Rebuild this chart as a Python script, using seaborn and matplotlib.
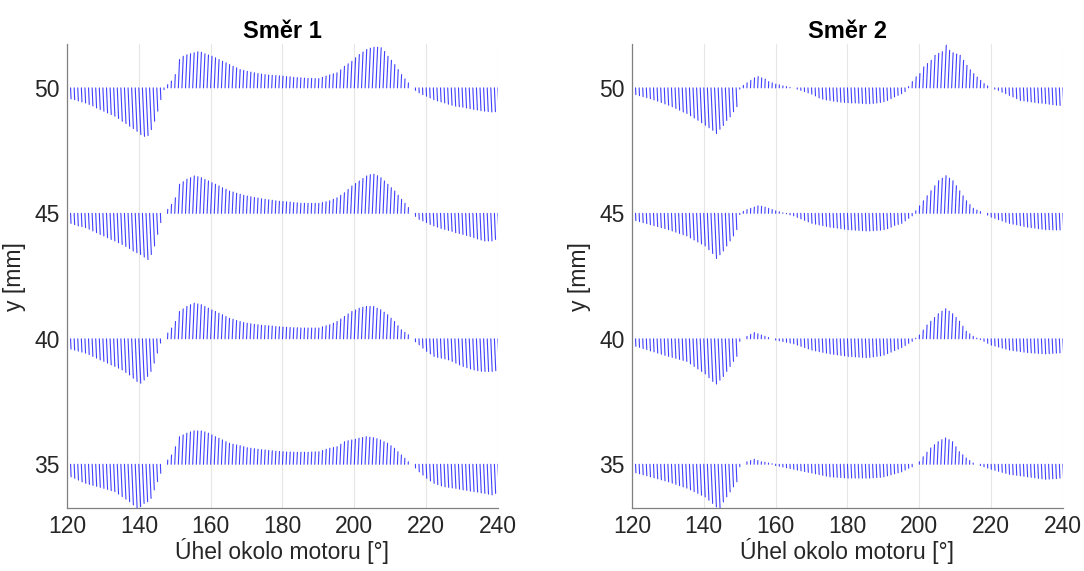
import numpy as np
import pandas as pd
import seaborn as sns
import matplotlib
matplotlib.use("Agg")
import matplotlib.pyplot as plt

# ---------------- data ----------------
angles = list(range(120, 241))          # angle around motor [deg]
baselines = [50, 45, 40, 35]            # y positions of the measurement lines [mm]
titles = ["Směr 1", "Směr 2"]
x_ticks = [120, 140, 160, 180, 200, 220, 240]
y_ticks = [35, 40, 45, 50]

s1_50 = [-0.40,-0.44,-0.47,-0.52,-0.56,-0.60,-0.66,-0.72,-0.80,-0.86,
         -0.93,-1.00,-1.06,-1.13,-1.22,-1.33,-1.42,-1.53,-1.62,-1.73,
         -1.86,-1.93,-1.90,-1.66,-1.33,-0.93,-0.47,-0.07,0.13,0.27,
         0.53,1.13,1.26,1.32,1.36,1.40,1.44,1.42,1.36,1.31,
         1.26,1.20,1.13,1.06,1.00,0.93,0.86,0.80,0.73,0.70,
         0.66,0.63,0.60,0.57,0.55,0.53,0.51,0.50,0.49,0.48,
         0.47,0.45,0.44,0.42,0.41,0.40,0.39,0.38,0.38,0.37,
         0.37,0.42,0.47,0.52,0.56,0.60,0.72,0.86,0.96,1.06,
         1.20,1.33,1.43,1.53,1.58,1.62,1.62,1.60,1.45,1.26,
         1.10,0.93,0.73,0.53,0.36,0.20,0.00,-0.10,-0.20,-0.27,
         -0.33,-0.40,-0.47,-0.52,-0.56,-0.60,-0.65,-0.69,-0.73,-0.75,
         -0.77,-0.80,-0.83,-0.86,-0.88,-0.91,-0.93,-0.94,-0.96,-0.95,
         -0.93]
s1_45 = [-0.37,-0.40,-0.45,-0.50,-0.53,-0.57,-0.63,-0.70,-0.77,-0.84,
         -0.90,-0.97,-1.04,-1.10,-1.17,-1.24,-1.32,-1.40,-1.50,-1.57,
         -1.64,-1.74,-1.84,-1.64,-1.30,-0.84,-0.37,0.00,0.16,0.36,
         0.62,1.16,1.26,1.36,1.42,1.49,1.46,1.42,1.35,1.29,
         1.22,1.16,1.09,1.02,0.96,0.89,0.85,0.80,0.76,0.72,
         0.69,0.66,0.63,0.61,0.58,0.56,0.54,0.52,0.50,0.48,
         0.47,0.46,0.45,0.43,0.42,0.40,0.40,0.40,0.40,0.40,
         0.40,0.43,0.46,0.50,0.56,0.62,0.72,0.82,0.95,1.09,
         1.19,1.29,1.39,1.49,1.54,1.56,1.50,1.42,1.29,1.16,
         1.02,0.89,0.72,0.56,0.40,0.23,0.00,-0.12,-0.24,-0.30,
         -0.37,-0.44,-0.50,-0.55,-0.60,-0.64,-0.68,-0.72,-0.77,-0.80,
         -0.84,-0.88,-0.92,-0.97,-1.02,-1.06,-1.10,-1.10,-1.10,-1.04,
         -0.97]
s1_40 = [-0.37,-0.41,-0.45,-0.49,-0.53,-0.57,-0.63,-0.70,-0.77,-0.84,
         -0.90,-0.97,-1.04,-1.10,-1.17,-1.24,-1.34,-1.44,-1.57,-1.70,
         -1.77,-1.64,-1.50,-1.30,-0.97,-0.57,-0.17,0.00,0.23,0.43,
         0.69,1.09,1.19,1.29,1.36,1.42,1.39,1.36,1.29,1.22,
         1.15,1.09,1.02,0.96,0.89,0.82,0.78,0.73,0.69,0.65,
         0.62,0.60,0.58,0.56,0.54,0.53,0.52,0.51,0.49,0.48,
         0.47,0.46,0.45,0.44,0.44,0.43,0.43,0.43,0.43,0.43,
         0.43,0.48,0.52,0.56,0.62,0.69,0.79,0.89,0.99,1.09,
         1.15,1.22,1.26,1.29,1.29,1.29,1.22,1.16,1.06,0.96,
         0.82,0.69,0.52,0.36,0.26,0.16,0.00,-0.12,-0.24,-0.37,
         -0.50,-0.60,-0.70,-0.74,-0.77,-0.80,-0.84,-0.90,-0.97,-1.04,
         -1.10,-1.15,-1.20,-1.24,-1.27,-1.29,-1.30,-1.30,-1.30,-1.27,
         -1.24]
s1_35 = [-0.43,-0.50,-0.56,-0.63,-0.70,-0.76,-0.80,-0.84,-0.88,-0.92,
         -0.96,-1.00,-1.05,-1.09,-1.19,-1.29,-1.39,-1.49,-1.62,-1.76,
         -1.69,-1.56,-1.49,-1.36,-1.02,-0.69,-0.36,0.00,0.17,0.37,
         0.70,1.10,1.17,1.24,1.29,1.33,1.33,1.33,1.29,1.24,
         1.17,1.10,1.04,0.97,0.90,0.84,0.80,0.77,0.74,0.70,
         0.66,0.64,0.62,0.60,0.58,0.57,0.55,0.54,0.52,0.51,
         0.50,0.49,0.49,0.48,0.48,0.48,0.48,0.48,0.49,0.49,
         0.50,0.55,0.60,0.64,0.67,0.70,0.80,0.90,0.94,0.97,
         1.00,1.04,1.07,1.10,1.08,1.06,1.02,0.97,0.90,0.84,
         0.74,0.64,0.50,0.37,0.24,0.10,0.00,-0.15,-0.30,-0.43,
         -0.56,-0.66,-0.76,-0.81,-0.86,-0.90,-0.92,-0.94,-0.96,-0.99,
         -1.02,-1.04,-1.07,-1.09,-1.11,-1.14,-1.16,-1.19,-1.22,-1.16,
         -1.09]

s2_50 = [-0.23,-0.27,-0.31,-0.35,-0.39,-0.43,-0.48,-0.53,-0.58,-0.64,
         -0.69,-0.75,-0.82,-0.89,-0.96,-1.02,-1.11,-1.20,-1.29,-1.39,
         -1.49,-1.59,-1.69,-1.82,-1.65,-1.50,-1.30,-1.15,-0.95,-0.75,
         -0.05,0.10,0.20,0.30,0.40,0.45,0.40,0.35,0.25,0.20,
         0.15,0.12,0.08,0.05,0.02,0.00,-0.05,-0.10,-0.15,-0.20,
         -0.25,-0.32,-0.40,-0.45,-0.48,-0.50,-0.53,-0.55,-0.57,-0.58,
         -0.59,-0.60,-0.60,-0.61,-0.62,-0.63,-0.63,-0.62,-0.60,-0.58,
         -0.55,-0.50,-0.43,-0.36,-0.30,-0.23,-0.15,0.05,0.25,0.44,
         0.57,0.84,0.97,1.10,1.30,1.38,1.44,1.70,1.50,1.40,
         1.35,1.30,1.10,0.90,0.72,0.57,0.43,0.30,0.17,0.08,
         0.00,-0.05,-0.10,-0.17,-0.23,-0.30,-0.36,-0.43,-0.50,-0.52,
         -0.54,-0.56,-0.58,-0.60,-0.61,-0.63,-0.65,-0.67,-0.69,-0.70,
         -0.63]
s2_45 = [-0.25,-0.29,-0.33,-0.37,-0.41,-0.45,-0.49,-0.53,-0.57,-0.61,
         -0.65,-0.70,-0.75,-0.80,-0.85,-0.90,-0.98,-1.06,-1.14,-1.22,
         -1.30,-1.45,-1.60,-1.80,-1.65,-1.50,-1.30,-1.10,-0.90,-0.65,
         -0.05,0.08,0.15,0.20,0.25,0.30,0.28,0.25,0.20,0.15,
         0.10,0.06,0.02,-0.02,-0.06,-0.10,-0.16,-0.22,-0.28,-0.34,
         -0.40,-0.43,-0.46,-0.49,-0.52,-0.55,-0.57,-0.59,-0.61,-0.63,
         -0.65,-0.66,-0.67,-0.68,-0.69,-0.70,-0.70,-0.69,-0.68,-0.67,
         -0.65,-0.61,-0.55,-0.48,-0.44,-0.40,-0.30,-0.20,-0.10,0.10,
         0.30,0.50,0.70,0.90,1.10,1.30,1.40,1.50,1.40,1.30,
         1.10,0.90,0.70,0.50,0.35,0.20,0.13,0.07,0.00,-0.07,
         -0.15,-0.20,-0.25,-0.30,-0.35,-0.40,-0.43,-0.46,-0.49,-0.52,
         -0.55,-0.57,-0.59,-0.61,-0.63,-0.65,-0.65,-0.66,-0.66,-0.66,
         -0.65]
s2_40 = [-0.25,-0.30,-0.34,-0.39,-0.43,-0.48,-0.52,-0.57,-0.61,-0.66,
         -0.70,-0.74,-0.78,-0.82,-0.86,-0.90,-1.00,-1.10,-1.20,-1.30,
         -1.40,-1.55,-1.70,-1.80,-1.65,-1.50,-1.30,-1.10,-0.90,-0.70,
         -0.10,0.00,0.10,0.18,0.25,0.20,0.15,0.10,0.05,0.00,
         -0.05,-0.08,-0.11,-0.14,-0.17,-0.20,-0.25,-0.30,-0.35,-0.40,
         -0.45,-0.48,-0.51,-0.54,-0.57,-0.60,-0.62,-0.64,-0.66,-0.68,
         -0.70,-0.71,-0.72,-0.73,-0.74,-0.75,-0.74,-0.72,-0.70,-0.68,
         -0.65,-0.59,-0.53,-0.47,-0.41,-0.35,-0.27,-0.18,-0.10,0.02,
         0.15,0.35,0.55,0.70,0.85,1.00,1.10,1.20,1.10,1.00,
         0.85,0.70,0.50,0.30,0.20,0.10,0.03,-0.03,-0.10,-0.18,
         -0.25,-0.29,-0.33,-0.37,-0.41,-0.45,-0.47,-0.49,-0.51,-0.53,
         -0.55,-0.56,-0.57,-0.58,-0.59,-0.60,-0.59,-0.58,-0.57,-0.56,
         -0.55]
s2_35 = [-0.30,-0.34,-0.38,-0.42,-0.46,-0.50,-0.54,-0.58,-0.62,-0.66,
         -0.70,-0.75,-0.80,-0.85,-0.90,-0.95,-1.02,-1.09,-1.16,-1.23,
         -1.30,-1.43,-1.56,-1.70,-1.80,-1.50,-1.30,-1.10,-0.90,-0.70,
         -0.10,0.00,0.10,0.15,0.20,0.15,0.10,0.08,0.05,0.02,
         -0.05,-0.08,-0.11,-0.14,-0.17,-0.20,-0.23,-0.26,-0.29,-0.32,
         -0.35,-0.38,-0.41,-0.44,-0.47,-0.50,-0.51,-0.52,-0.53,-0.54,
         -0.55,-0.55,-0.55,-0.55,-0.55,-0.55,-0.55,-0.54,-0.53,-0.52,
         -0.50,-0.46,-0.42,-0.38,-0.34,-0.30,-0.23,-0.16,-0.10,0.00,
         0.10,0.30,0.48,0.65,0.78,0.90,0.98,1.05,0.98,0.90,
         0.70,0.50,0.38,0.25,0.15,0.05,0.00,-0.05,-0.10,-0.15,
         -0.20,-0.24,-0.28,-0.32,-0.36,-0.40,-0.42,-0.44,-0.46,-0.48,
         -0.50,-0.52,-0.54,-0.56,-0.58,-0.60,-0.59,-0.58,-0.57,-0.55,
         -0.50]

series = {
    0: [s1_50, s1_45, s1_40, s1_35],
    1: [s2_50, s2_45, s2_40, s2_35],
}

# ---------------- build long table of segments ----------------
SLANT = 0.3  # horizontal lean of each displacement segment (deg per mm)
rows = []
for panel, lst in series.items():
    for base, disp in zip(baselines, lst):
        for a, d in zip(angles, disp):
            uid = f"{panel}_{base}_{a}"
            rows.append((panel, uid, a, base))
            rows.append((panel, uid, a + SLANT * abs(d), base + d))
df = pd.DataFrame(rows, columns=["panel", "uid", "angle", "y"])

# ---------------- plot ----------------
sns.set_theme(style="white")
plt.rcParams["font.family"] = ["Liberation Sans", "DejaVu Sans"]

fig = plt.figure(figsize=(10.84, 5.71), dpi=100)
axes = [fig.add_axes([0.0618, 0.110, 0.3976, 0.813]),
        fig.add_axes([0.5830, 0.110, 0.3976, 0.813])]

for panel, ax in enumerate(axes):
    sub = df[df["panel"] == panel]
    sns.lineplot(data=sub, x="angle", y="y", units="uid", estimator=None,
                 sort=False, color="#0000ff", lw=0.8, alpha=0.75, ax=ax,
                 legend=False)
    ax.set_xlim(120, 240)
    ax.set_ylim(33.25, 51.75)
    ax.set_xticks(x_ticks)
    ax.set_yticks(y_ticks)
    ax.grid(axis="x", color="#e6e6e6", lw=0.8)
    ax.set_axisbelow(True)
    for s in ["top", "right"]:
        ax.spines[s].set_visible(False)
    for s in ["left", "bottom"]:
        ax.spines[s].set_color("#808080")
        ax.spines[s].set_linewidth(0.9)
    ax.tick_params(axis="both", length=0, labelsize=16.5, colors="#262626",
                   pad=5)
    ax.set_title(titles[panel], fontsize=17, fontweight="bold", pad=4,
                 color="black")
    ax.set_xlabel("Úhel okolo motoru [°]", fontsize=16.5, color="#262626",
                  labelpad=0)
    ax.set_ylabel("y [mm]", fontsize=16.5, color="#262626", labelpad=6)

fig.savefig("out.png", dpi=100, facecolor="white")
